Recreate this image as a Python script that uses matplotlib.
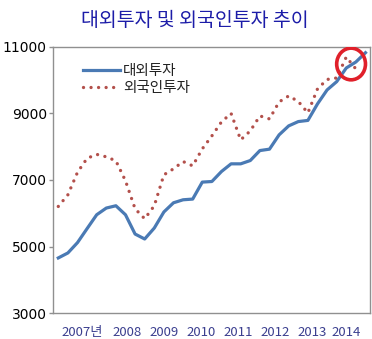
import matplotlib.pyplot as plt
import numpy as np
from matplotlib.patches import Ellipse

# quarterly series
outward = [4660, 4810, 5120, 5540, 5955, 6156, 6225, 5955, 5377, 5228, 5557,
           6039, 6314, 6404, 6425, 6934, 6952, 7252, 7482, 7482, 7581, 7880,
           7922, 8350, 8620, 8749, 8784, 9278, 9698, 9946, 10356, 10536, 10814]
inward = [6204, 6554, 7228, 7647, 7766, 7692, 7572, 6973, 6135, 5835, 6225,
          7153, 7332, 7551, 7422, 7931, 8320, 8740, 8994, 8201, 8470, 8919,
          8829, 9338, 9518, 9353, 9009, 9728, 10012, 10057, 10686, 10326]
year_labels = ["2007년", "2008", "2009", "2010", "2011", "2012", "2013", "2014"]
year_tick_at = [2.5, 7.2, 11.0, 14.9, 18.7, 22.6, 26.4, 30.0]
y_ticks = [3000, 5000, 7000, 9000, 11000]

KR = ["Noto Sans CJK KR", "DejaVu Sans"]
BLUE = "#4a7ab4"
RED = "#b3504b"

fig = plt.figure(figsize=(3.72, 3.39), dpi=100)
ax = fig.add_axes([0.1425, 0.0758, 0.8521, 0.787])

ax.plot(np.arange(len(outward)), outward, color=BLUE, lw=2.3,
        solid_joinstyle="round", label="대외투자")
ax.plot(np.arange(len(inward)), inward, color=RED, lw=2.4,
        ls=(0, (0.01, 2.25)), dash_capstyle="round", label="외국인투자")

# red highlight ring around the latest quarters
cx = np.mean([len(inward) - 2, len(inward) - 1])
cy = np.mean(outward[-3:-1] + inward[-2:])
ax.add_patch(Ellipse((cx, cy), 3.0, 950, fill=False, ec="#e0202a", lw=2.6,
                     zorder=5))

ax.set_xlim(-0.55, 32.47)
ax.set_ylim(3000, 11000)
ax.set_yticks(y_ticks)
ax.set_xticks(year_tick_at)
ax.set_xticklabels(year_labels, family=KR, fontsize=9.5, color="#3b3f8f")
ax.tick_params(axis="x", length=0, pad=9)
ax.tick_params(axis="y", length=3, width=1, color="#909090", pad=1.5,
               labelsize=10)
for s in ax.spines.values():
    s.set_color("#909090")
    s.set_linewidth(1)

leg = ax.legend(loc="upper left", bbox_to_anchor=(0.096, 0.935),
                frameon=False, borderpad=0, borderaxespad=0,
                handlelength=2.5, handletextpad=0.2, labelspacing=0.2,
                prop={"family": KR, "size": 10.5})
for t in leg.get_texts():
    t.set_color("#222222")

fig.text(0.524, 0.94, "대외투자 및 외국인투자 추이", ha="center", va="center",
         family=KR, fontsize=14, fontweight="medium", color="#1c1ca8")

fig.savefig("out.png", dpi=100)
